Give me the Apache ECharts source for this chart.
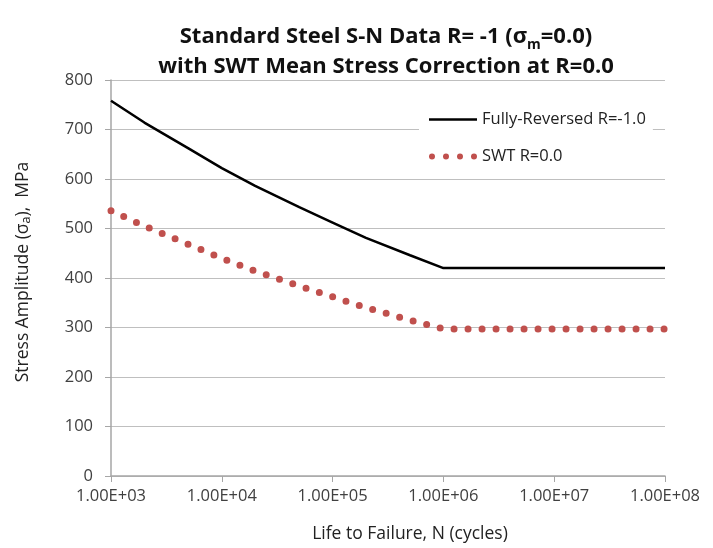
<!DOCTYPE html>
<html><head><meta charset="utf-8">
<script src="https://cdn.jsdelivr.net/npm/echarts@6/dist/echarts.min.js"></script>
<style>html,body{margin:0;padding:0;background:#fff}#c{width:713px;height:548px}</style>
</head><body><div id="c"></div>
<script>
const cycles = [1e3, 2e3, 5e3, 1e4, 2e4, 5e4, 1e5, 2e5, 5e5, 1e6, 1e7, 1e8];
const fullyReversed = [758, 714, 662, 622, 586, 543, 512, 481, 446, 420, 420, 420];
const swt = [536, 505, 468, 440, 414, 384, 362, 340, 315, 297, 297, 297];
const seriesNames = ['Fully-Reversed R=-1.0', 'SWT R=0.0'];
const yTicks = {min: 0, max: 800, interval: 100};
const xRange = {min: 1e3, max: 1e8};

const font = "'Open Sans', 'Liberation Sans', sans-serif";
const lineIcon = 'path://M0 0H48V2.6H0Z';
const dotIcon = 'path://M0 3A3 3 0 1 0 6 3A3 3 0 1 0 0 3Z' +
  'M14 3A3 3 0 1 0 20 3A3 3 0 1 0 14 3Z' +
  'M28 3A3 3 0 1 0 34 3A3 3 0 1 0 28 3Z' +
  'M42 3A3 3 0 1 0 48 3A3 3 0 1 0 42 3Z';

const chart = echarts.init(document.getElementById('c'), null, {renderer: 'canvas'});
chart.setOption({
  backgroundColor: '#fff',
  animation: false,
  title: {
    text: '{a|Standard Steel S-N Data R= -1 (σ}{s|m}{a|=0.0)}\n{a|with SWT Mean Stress Correction at R=0.0}',
    left: 381, top: 17, textAlign: 'center',
    textStyle: {
      fontFamily: font, fontWeight: 'bold', fontSize: 22, color: '#111', lineHeight: 30,
      rich: {
        a: {fontFamily: font, fontWeight: 'bold', fontSize: 22, color: '#111', lineHeight: 30},
        s: {fontFamily: font, fontWeight: 'bold', fontSize: 14, color: '#111', verticalAlign: 'bottom', padding: [9, 0, 0, 0]}
      }
    }
  },
  legend: {
    orient: 'vertical', left: 419, top: 104,
    backgroundColor: '#fff', padding: [7, 7, 7, 10],
    itemWidth: 48, itemHeight: 14, itemGap: 20,
    textStyle: {fontFamily: font, fontSize: 16.5, color: '#222'},
    data: [{name: seriesNames[0], icon: lineIcon}, {name: seriesNames[1], icon: dotIcon}]
  },
  grid: {left: 111, right: 48, top: 80, bottom: 71, containLabel: false},
  xAxis: {
    type: 'log', logBase: 10, min: xRange.min, max: xRange.max,
    name: 'Life to Failure, N (cycles)', nameLocation: 'middle', nameGap: 49,
    nameTextStyle: {fontFamily: font, fontSize: 17.5, color: '#222', padding: [0, 0, 0, 44]},
    axisLine: {show: true, lineStyle: {color: '#A6A6A6', width: 1.5}},
    axisTick: {show: true, length: 6, lineStyle: {color: '#A6A6A6'}},
    minorTick: {show: false},
    splitLine: {show: false},
    axisLabel: {
      fontFamily: font, fontSize: 16.5, color: '#404040', margin: 12,
      formatter: v => { const e = Math.round(Math.log10(v)); return '1.00E+' + (e < 10 ? '0' + e : e); }
    }
  },
  yAxis: {
    type: 'value', min: yTicks.min, max: yTicks.max, interval: yTicks.interval,
    name: '{t|Stress Amplitude (σ}{s|a}{t|),  MPa}', nameLocation: 'middle', nameGap: 78,
    nameTextStyle: {
      fontFamily: font, fontSize: 17.5, color: '#222', padding: [0, 0, 0, 12],
      rich: {
        t: {fontFamily: font, fontSize: 17.5, color: '#222'},
        s: {fontFamily: font, fontSize: 12.5, color: '#222', verticalAlign: 'bottom', padding: [7, 0, 0, 0]}
      }
    },
    axisLine: {show: true, lineStyle: {color: '#A6A6A6', width: 1.5}},
    axisTick: {show: true, length: 6, lineStyle: {color: '#A6A6A6'}},
    splitLine: {show: true, lineStyle: {color: '#BFBFBF', width: 1.2}},
    axisLabel: {fontFamily: font, fontSize: 16.5, color: '#404040', margin: 18}
  },
  series: [
    {
      name: seriesNames[0], type: 'line', symbol: 'none', smooth: false,
      data: cycles.map((c, i) => [c, fullyReversed[i]]),
      lineStyle: {color: '#000', width: 2.5},
      itemStyle: {color: '#000'}
    },
    {
      name: seriesNames[1], type: 'line', symbol: 'none', smooth: false,
      data: cycles.map((c, i) => [c, swt[i]]),
      lineStyle: {color: '#C0504D', width: 7, type: [0, 14], cap: 'round'},
      itemStyle: {color: '#C0504D'}
    }
  ]
});
</script></body></html>
